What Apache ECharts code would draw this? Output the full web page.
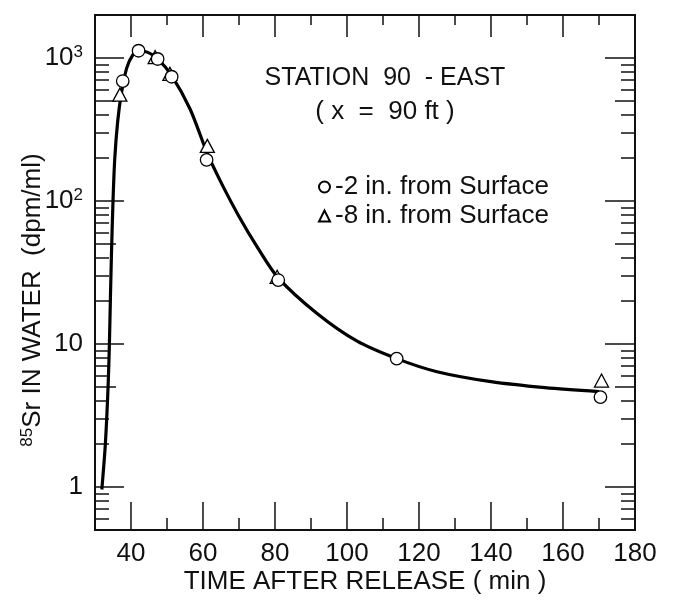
<!DOCTYPE html>
<html>
<head>
<meta charset="utf-8">
<script src="https://cdn.jsdelivr.net/npm/echarts@6/dist/echarts.min.js"></script>
<style>
  html, body { margin: 0; padding: 0; background: #fff; }
  #chart { width: 673px; height: 600px; }
</style>
</head>
<body>
<div id="chart"></div>
<script>
// Axis ranges and tick values
const timeRange = [30, 180];
const concRange = [0.5, 2000];
const xLabelValues = [40, 60, 80, 100, 120, 140, 160, 180];
const xMajorTicks = [40, 60, 80, 100, 120, 140, 160];
const xMinorTicks = [50, 70, 90, 110, 130, 150, 170];
const yDecadeTicks = [1, 10, 100, 1000];
const yFiveTicks = [5, 50, 500];
const yMinorTicks = [0.6, 0.7, 0.8, 0.9, 2, 3, 4, 6, 7, 8, 9, 20, 30, 40, 60, 70, 80, 90,
                     200, 300, 400, 600, 700, 800, 900];

// Smooth curve drawn through the measurements (time in min, dpm/ml)
const curveTime = [31.9, 32.8, 33.3, 33.7, 34.0, 34.3, 34.6, 35.0, 35.5, 36.3, 37.3,
                   38.8, 40.5, 42.2, 44.5, 47.2, 51.2, 56.4, 61.2, 65.0, 70.0, 75.0, 80.9,
                   91.6, 102.7, 113.8, 125.0, 140.0, 155.0, 170.0];
const curveConc = [0.96, 1.86, 3.2, 5.6, 10, 22, 45, 100, 200, 360, 560,
                   850, 1050, 1120, 1100, 1000, 760, 440, 215, 135, 78, 48, 29,
                   16.4, 10.5, 7.9, 6.4, 5.45, 4.95, 4.65];

// Samples taken 2 in. below the surface
const shallowTime = [37.7, 42.1, 47.4, 51.3, 61.0, 80.9, 113.8, 170.4];
const shallowConc = [690, 1125, 985, 740, 194, 28, 7.9, 4.25];

// Samples taken 8 in. below the surface
const deepTime = [36.9, 46.7, 50.8, 61.2, 80.6, 170.7];
const deepConc = [555, 1015, 775, 243, 29.5, 5.55];

const shallowName = '-2 in. from Surface';
const deepName = '-8 in. from Surface';

const FONT = "'Liberation Sans', Arial, sans-serif";
const INK = '#111';
const pairs = (xs, ys) => xs.map((x, i) => [x, ys[i]]);

function xAxisDef(position, ticks, len, labels) {
  return {
    type: 'value', position: position, min: timeRange[0], max: timeRange[1],
    axisLine: { show: true, lineStyle: { color: INK, width: 2 } },
    axisTick: { show: true, inside: true, length: len, customValues: ticks,
                lineStyle: { color: INK, width: 1.5 } },
    axisLabel: labels ? {
      show: true, customValues: xLabelValues, margin: 11,
      fontSize: 26, fontFamily: FONT, color: INK
    } : { show: false },
    splitLine: { show: false }
  };
}

function yLabel(v) {
  const p = Math.round(Math.log10(v));
  if (p === 0) return '{b|1}';
  if (p === 1) return '{b|10}';
  return '{b|10}{s|' + p + '}';
}

function yAxisDef(position, ticks, len, labels) {
  return {
    type: 'log', logBase: 10, position: position, min: concRange[0], max: concRange[1],
    axisLine: { show: true, lineStyle: { color: INK, width: 2 } },
    axisTick: { show: true, inside: true, length: len, customValues: ticks,
                lineStyle: { color: INK, width: 1.5 } },
    axisLabel: labels ? {
      show: true, customValues: yDecadeTicks, margin: 12, formatter: yLabel,
      rich: {
        b: { fontSize: 26, fontFamily: FONT, color: INK },
        s: { fontSize: 17, fontFamily: FONT, color: INK, verticalAlign: 'top', padding: [0, 0, 12, 0] }
      }
    } : { show: false },
    splitLine: { show: false }
  };
}

const chart = echarts.init(document.getElementById('chart'), null, { renderer: 'canvas' });

chart.setOption({
  backgroundColor: '#fff',
  animation: false,
  textStyle: { fontFamily: FONT, color: INK },
  grid: { left: 95, right: 38, top: 15, bottom: 68, containLabel: false },
  title: {
    text: 'STATION  90  - EAST',
    subtext: '( x  =  90 ft )',
    left: 380, top: 61, textAlign: 'center', itemGap: 8,
    textStyle: { fontSize: 25, fontWeight: 'normal', fontFamily: FONT, color: INK },
    subtextStyle: { fontSize: 26, fontFamily: FONT, color: INK }
  },
  legend: {
    orient: 'vertical', left: 313, top: 168,
    itemWidth: 11, itemHeight: 11, itemGap: 1, selectedMode: false,
    textStyle: { fontSize: 26, fontFamily: FONT, color: INK, lineHeight: 28 },
    data: [{ name: shallowName, icon: 'circle' }, { name: deepName, icon: 'triangle' }]
  },
  xAxis: [
    Object.assign(xAxisDef('bottom', xMajorTicks, 28, true), {
      name: 'TIME AFTER RELEASE ( min )', nameLocation: 'middle', nameGap: 39,
      nameMoveOverlap: false,
      nameTextStyle: { fontSize: 26, fontFamily: FONT, color: INK }
    }),
    xAxisDef('bottom', xMinorTicks, 12, false),
    xAxisDef('top', xMajorTicks, 22, false),
    xAxisDef('top', xMinorTicks, 10, false)
  ],
  yAxis: [
    yAxisDef('left', yDecadeTicks, 29, true),
    yAxisDef('left', yFiveTicks, 21, false),
    yAxisDef('left', yMinorTicks, 14, false),
    yAxisDef('right', yDecadeTicks, 30, false),
    yAxisDef('right', yFiveTicks, 20, false),
    yAxisDef('right', yMinorTicks, 14, false)
  ],
  graphic: [{
    type: 'text', x: 33, y: 300, rotation: Math.PI / 2,
    style: {
      text: '{s|85}{b|Sr IN WATER  (dpm/ml)}',
      align: 'center', verticalAlign: 'middle',
      rich: {
        b: { fontSize: 26, fontFamily: FONT, fill: INK },
        s: { fontSize: 17, fontFamily: FONT, fill: INK, verticalAlign: 'top', padding: [0, 0, 12, 0] }
      }
    }
  }],
  series: [
    {
      type: 'line', name: 'curve', xAxisIndex: 0, yAxisIndex: 0,
      data: pairs(curveTime, curveConc), smooth: 0.3, showSymbol: false,
      lineStyle: { color: '#000', width: 3.2 }, z: 2, silent: true
    },
    {
      type: 'scatter', name: deepName, xAxisIndex: 0, yAxisIndex: 0,
      data: pairs(deepTime, deepConc), symbol: 'triangle', symbolSize: [14, 13],
      itemStyle: { color: '#fff', borderColor: '#000', borderWidth: 1.3, opacity: 1 }, z: 3
    },
    {
      type: 'scatter', name: shallowName, xAxisIndex: 0, yAxisIndex: 0,
      data: pairs(shallowTime, shallowConc), symbol: 'circle', symbolSize: 12.5,
      itemStyle: { color: '#fff', borderColor: '#000', borderWidth: 1.3, opacity: 1 }, z: 4
    }
  ]
});
</script>
</body>
</html>
